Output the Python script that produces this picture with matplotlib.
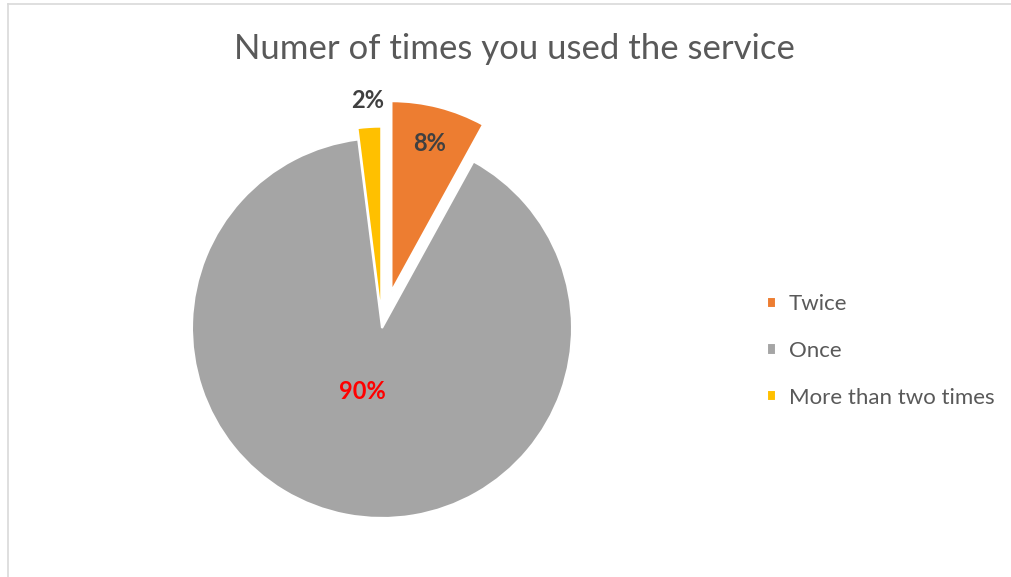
import numpy as np
import matplotlib.pyplot as plt
from matplotlib.lines import Line2D

plt.rcParams['font.family'] = ['Lato', 'DejaVu Sans']

# data
labels = ['Twice', 'Once', 'More than two times']
values = [8, 90, 2]
pct_text = ['8%', '90%', '2%']
colors = ['#ED7D31', '#A5A5A5', '#FFC000']
explode = [0.2, 0.0, 0.06]
label_colors = ['#404040', '#FF0000', '#404040']
label_dist = [0.8, 0.34, 1.14]  # distance from the (exploded) slice tip

W, H = 1011, 577
fig = plt.figure(figsize=(W / 100, H / 100), dpi=100)

# pie centre (px from top-left) and radius in px
cx, cy, R = 382, 328, 190
lim = 1.3
half = lim * R
ax = fig.add_axes([(cx - half) / W, (H - cy - half) / H, 2 * half / W, 2 * half / H])

wedges, _ = ax.pie(values, colors=colors, explode=explode, startangle=90,
                   counterclock=False, radius=1,
                   wedgeprops=dict(edgecolor='white', linewidth=1.5))
ax.set_xlim(-lim, lim)
ax.set_ylim(-lim, lim)
ax.set_aspect('equal')
ax.axis('off')

for i, (w, txt, col, d) in enumerate(zip(wedges, pct_text, label_colors, label_dist)):
    ang = np.deg2rad((w.theta1 + w.theta2) / 2)
    x0, y0 = w.center
    dx = -0.04 if i == 1 else 0
    ax.text(x0 + d * np.cos(ang) + dx, y0 + d * np.sin(ang), txt, ha='center', va='center',
            fontsize=17, fontweight='bold', color=col)

fig.text(514 / W, 1 - 49 / H, 'Numer of times you used the service', ha='center', va='center',
         fontsize=25, color='#595959')

leg = fig.legend(wedges, labels, loc='center left', bbox_to_anchor=(747 / W, 1 - 351 / H),
                 frameon=False, fontsize=16, handlelength=0.42, handleheight=0.42,
                 handletextpad=0.55, labelspacing=1.2, labelcolor='#595959')

# chart border
fig.add_artist(Line2D([7.5 / W, 7.5 / W], [0, 1 - 3.5 / H], color='#d9d9d9', lw=1.2))
fig.add_artist(Line2D([7.5 / W, 1], [1 - 3.5 / H, 1 - 3.5 / H], color='#d9d9d9', lw=1.2))

fig.savefig('out.png', dpi=100)
